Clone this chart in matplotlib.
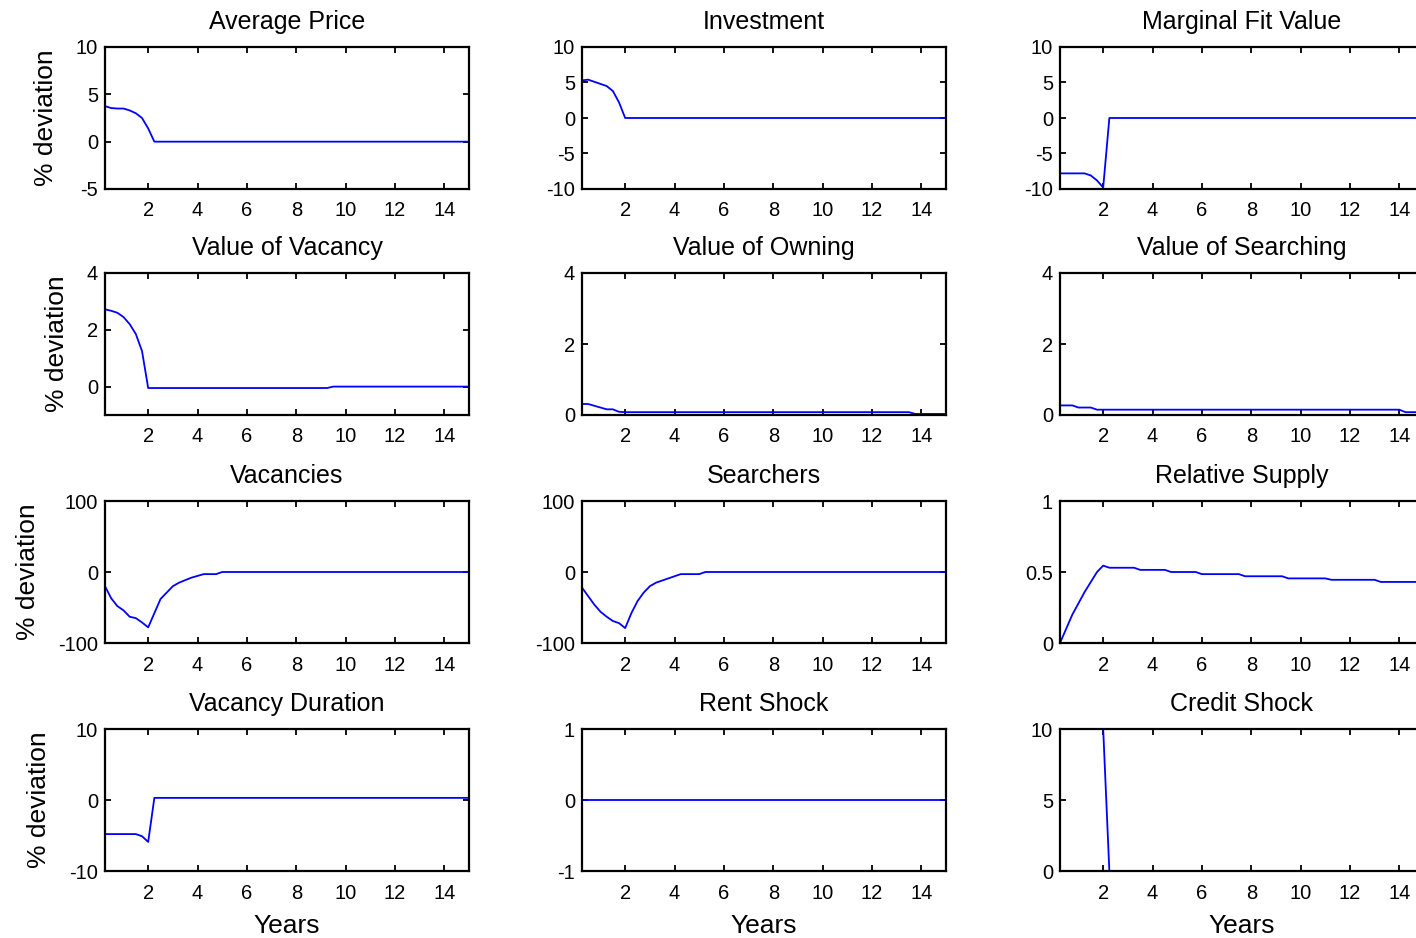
import numpy as np
import matplotlib
matplotlib.use('Agg')
import matplotlib.pyplot as plt

plt.rcParams['font.family'] = ['Liberation Sans', 'DejaVu Sans']

# quarterly horizon, 15 years
years = np.arange(1, 61) / 4.0

avg_price = [3.75, 3.55, 3.5, 3.5, 3.3, 3.0, 2.5, 1.4, 0.0] + [0.0] * 51
investment = [5.3, 5.4, 5.1, 4.8, 4.5, 3.8, 2.2, 0.0] + [0.0] * 52
marginal_fit = [-7.8, -7.8, -7.8, -7.8, -7.8, -8.1, -8.8, -9.8, 0.0] + [0.0] * 51
value_vacancy = [2.72, 2.67, 2.6, 2.45, 2.2, 1.85, 1.25, -0.05] + [-0.05] * 29 + [0.0] * 23
value_owning = [0.31, 0.31, 0.26, 0.21, 0.16, 0.16, 0.09, 0.08] + [0.08] * 46 + [0.03] * 6
value_searching = [0.27, 0.27, 0.27, 0.21, 0.21, 0.21] + [0.15] * 50 + [0.08] * 4
vacancies = [-20, -37, -48, -54, -63, -65, -71, -78, -58, -38, -29, -20,
             -15, -11.5, -8, -5.5, -3, -3, -3, 0] + [0.0] * 40
searchers = [-22, -34, -46, -56, -63, -69, -72, -79, -58, -41, -29, -20,
             -15, -12, -9, -6, -3, -3, -3, -3, 0] + [0.0] * 39
rel_supply = ([0.0, 0.1, 0.2, 0.28, 0.36, 0.43, 0.5, 0.545]
              + [0.53] * 5 + [0.515] * 5 + [0.50] * 5 + [0.485] * 7
              + [0.47] * 7 + [0.455] * 7 + [0.445] * 8 + [0.43] * 8)
vac_duration = [-4.8] * 6 + [-5.1, -5.9] + [0.3] * 52
rent_shock = [0.0] * 60
credit_shock = [10.0] * 8 + [0.0] * 52

titles = ['Average Price', 'Investment', 'Marginal Fit Value',
          'Value of Vacancy', 'Value of Owning', 'Value of Searching',
          'Vacancies', 'Searchers', 'Relative Supply',
          'Vacancy Duration', 'Rent Shock', 'Credit Shock']
series = [avg_price, investment, marginal_fit,
          value_vacancy, value_owning, value_searching,
          vacancies, searchers, rel_supply,
          vac_duration, rent_shock, credit_shock]
ylims = [(-5, 10), (-10, 10), (-10, 10),
         (-1, 4), (0, 4), (0, 4),
         (-100, 100), (-100, 100), (0, 1),
         (-10, 10), (-1, 1), (0, 10)]
yticks = [[-5, 0, 5, 10], [-10, -5, 0, 5, 10], [-10, -5, 0, 5, 10],
          [0, 2, 4], [0, 2, 4], [0, 2, 4],
          [-100, 0, 100], [-100, 0, 100], [0, 0.5, 1],
          [-10, 0, 10], [-1, 0, 1], [0, 5, 10]]

W, H = 1416.0, 938.0
col_left = [105, 582, 1060]
row_top = [47, 273, 501, 729]
ax_w, ax_h = 364, 142

fig = plt.figure(figsize=(14.16, 9.38), dpi=100)

for i in range(12):
    r, c = divmod(i, 3)
    ax = fig.add_axes([col_left[c] / W, 1 - (row_top[r] + ax_h) / H, ax_w / W, ax_h / H])
    ax.plot(years, series[i], color=(0, 0, 1), lw=1.3)
    ax.set_xlim(0.25, 15)
    ax.set_ylim(*ylims[i])
    ax.set_xticks([2, 4, 6, 8, 10, 12, 14])
    ax.set_yticks(yticks[i])
    ax.set_yticklabels(['%g' % v for v in yticks[i]])
    ax.tick_params(direction='in', top=True, right=True, length=4.5, width=1.3,
                   labelsize=14.5, colors='black')
    ax.tick_params(axis='x', pad=9)
    ax.tick_params(axis='y', pad=5)
    for s in ax.spines.values():
        s.set_linewidth(1.6)
    ax.set_title(titles[i], fontsize=18, pad=13)
    if c == 0:
        ax.set_ylabel('% deviation', fontsize=19, labelpad=13)
    if r == 3:
        ax.set_xlabel('Years', fontsize=19, labelpad=8)

plt.savefig('out.png', dpi=100)
